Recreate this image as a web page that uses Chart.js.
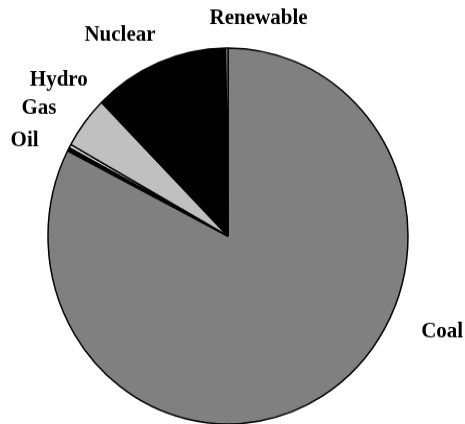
<!DOCTYPE html>
<html>
<head>
<meta charset="utf-8">
<script src="https://cdn.jsdelivr.net/npm/chart.js@4/dist/chart.umd.min.js"></script>
<style>
    html, body { margin: 0; padding: 0; background: #fff; }
    #wrap { width: 465px; height: 424px; overflow: hidden; position: relative; }
    #pie { display: block; width: 465px; height: 408px; transform: scaleY(1.0444); transform-origin: 0 0; }
</style>
</head>
<body>
<div id="wrap"><canvas id="pie" width="465" height="408" style="width:465px;height:408px"></canvas></div>
<script>
const categories = ['Coal', 'Oil', 'Gas', 'Hydro', 'Nuclear', 'Renewable'];
const shares = [82.5, 0.3, 0.3, 4.5, 12.2, 0.2];
const sliceColors = ['#808080', '#000000', '#ffffff', '#c0c0c0', '#000000', '#d9d9d9'];

// where each label sits, relative to pie centre, in units of the radius
const labelOffsets = [
    [1.19, 0.51],
    [-1.13, -0.51],
    [-1.05, -0.68],
    [-0.94, -0.83],
    [-0.60, -1.07],
    [0.17, -1.16]
];

const outsideLabels = {
    id: 'outsideLabels',
    afterDraw(chart) {
        const arc = chart.getDatasetMeta(0).data[0];
        const ctx = chart.ctx;
        const r = arc.outerRadius;
        ctx.save();
        ctx.font = 'bold 21px "Liberation Serif", "Times New Roman", serif';
        ctx.fillStyle = '#000';
        ctx.textAlign = 'center';
        ctx.textBaseline = 'middle';
        categories.forEach(function (name, i) {
            ctx.fillText(name, arc.x + labelOffsets[i][0] * r, arc.y + labelOffsets[i][1] * r);
        });
        ctx.restore();
    }
};

document.addEventListener("DOMContentLoaded", function () {
    let Pie = document.getElementById("pie");

    let PieChart = new Chart(Pie, {
        type: 'pie',
        data: {
            labels: categories,
            datasets: [{
                data: shares,
                backgroundColor: sliceColors,
                borderColor: '#000',
                borderWidth: 1.5,
            }]
        },
        options: {
            responsive: false,
            animation: false,
            radius: 180,
            layout: {
                padding: {
                    left: 48,
                    right: 57,
                    top: 46,
                    bottom: 2
                }
            },
            plugins: {
                legend: {
                    display: false
                },
                tooltip: {
                    enabled: false
                }
            }
        },
        plugins: [outsideLabels]
    });
});
</script>
</body>
</html>
